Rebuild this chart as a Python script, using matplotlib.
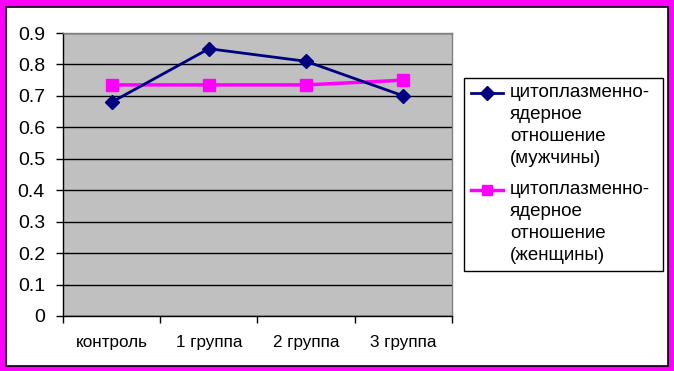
import matplotlib.pyplot as plt
import matplotlib.patches as patches
from matplotlib.lines import Line2D
import numpy as np

# ============================================================
# Data
# ============================================================
categories = ["контроль", "1 группа", "2 группа", "3 группа"]
men = [0.68, 0.85, 0.81, 0.70]
women = [0.735, 0.735, 0.735, 0.75]
label_men = "цитоплазменно-\nядерное\nотношение\n(мужчины)"
label_women = "цитоплазменно-\nядерное\nотношение\n(женщины)"
y_ticks = [0, 0.1, 0.2, 0.3, 0.4, 0.5, 0.6, 0.7, 0.8, 0.9]
y_labels = ["0", "0.1", "0.2", "0.3", "0.4", "0.5", "0.6", "0.7", "0.8", "0.9"]

plt.rcParams['font.family'] = ['Liberation Sans', 'DejaVu Sans']

W, H = 674, 371
fig = plt.figure(figsize=(W / 100, H / 100), dpi=100)
fig.patch.set_facecolor('white')


def fx(px):
    return px / W


def fy(py):
    return 1 - py / H


# magenta frame with thin black inner line
fig.patches.append(patches.Rectangle((0, 0), 1, 1, transform=fig.transFigure,
                                     facecolor='#FF00FF', edgecolor='none', zorder=0))
fig.patches.append(patches.Rectangle((5.5 / W, 5.5 / H), 1 - 12 / W, 1 - 12 / H,
                                     transform=fig.transFigure, facecolor='white',
                                     edgecolor='black', linewidth=1.2, zorder=0))

# plot area
x0, x1, ytop, ybot = 63, 452, 33, 316
ax = fig.add_axes([fx(x0), fy(ybot), (x1 - x0) / W, (ybot - ytop) / H])
ax.set_facecolor('#C0C0C0')
ax.set_zorder(2)

x = np.arange(len(categories))
men_style = dict(color='#000080', linewidth=2, marker='D', markersize=7,
                 markerfacecolor='#000080', markeredgecolor='#000080')
women_style = dict(color='#FF00FF', linewidth=2.5, marker='s', markersize=9,
                   markerfacecolor='#FF00FF', markeredgecolor='#FF00FF')
ax.plot(x, men, zorder=4, **men_style)
ax.plot(x, women, zorder=3, **women_style)

ax.set_xlim(-0.5, len(categories) - 0.5)
ax.set_ylim(0, 0.9)
ax.set_yticks(y_ticks)
ax.set_yticklabels(y_labels, fontsize=14)
ax.yaxis.grid(True, color='black', linewidth=1)
ax.set_axisbelow(True)

ax.set_xticks(np.arange(-0.5, len(categories), 1.0))
ax.set_xticklabels([])
ax.set_xticks(x, minor=True)
ax.set_xticklabels(categories, minor=True, fontsize=12.3)
ax.tick_params(axis='x', which='major', direction='out', length=5, width=1)
ax.tick_params(axis='x', which='minor', length=0, pad=14)
ax.tick_params(axis='y', direction='out', length=5, width=1, pad=8)

for side in ['top', 'right']:
    ax.spines[side].set_color('#808080')
    ax.spines[side].set_linewidth(1)
for side in ['left', 'bottom']:
    ax.spines[side].set_color('black')
    ax.spines[side].set_linewidth(1)

# legend box drawn by hand: handles sit at the first text line
fig.patches.append(patches.Rectangle((fx(464), fy(271)), fx(663) - fx(464),
                                     fy(78) - fy(271), transform=fig.transFigure,
                                     facecolor='white', edgecolor='black',
                                     linewidth=1, zorder=1))
entries = [(label_men, men_style, 93), (label_women, women_style, 190)]
for text, style, ypix in entries:
    st = dict(style)
    st['markersize'] = 7
    fig.add_artist(Line2D([fx(471), fx(487), fx(503)], [fy(ypix)] * 3,
                          transform=fig.transFigure, markevery=[1], **st))
    fig.text(fx(510), fy(ypix - 9), text, fontsize=13.5, ha='left', va='top',
             linespacing=1.38)

fig.savefig('out.png', dpi=100)
